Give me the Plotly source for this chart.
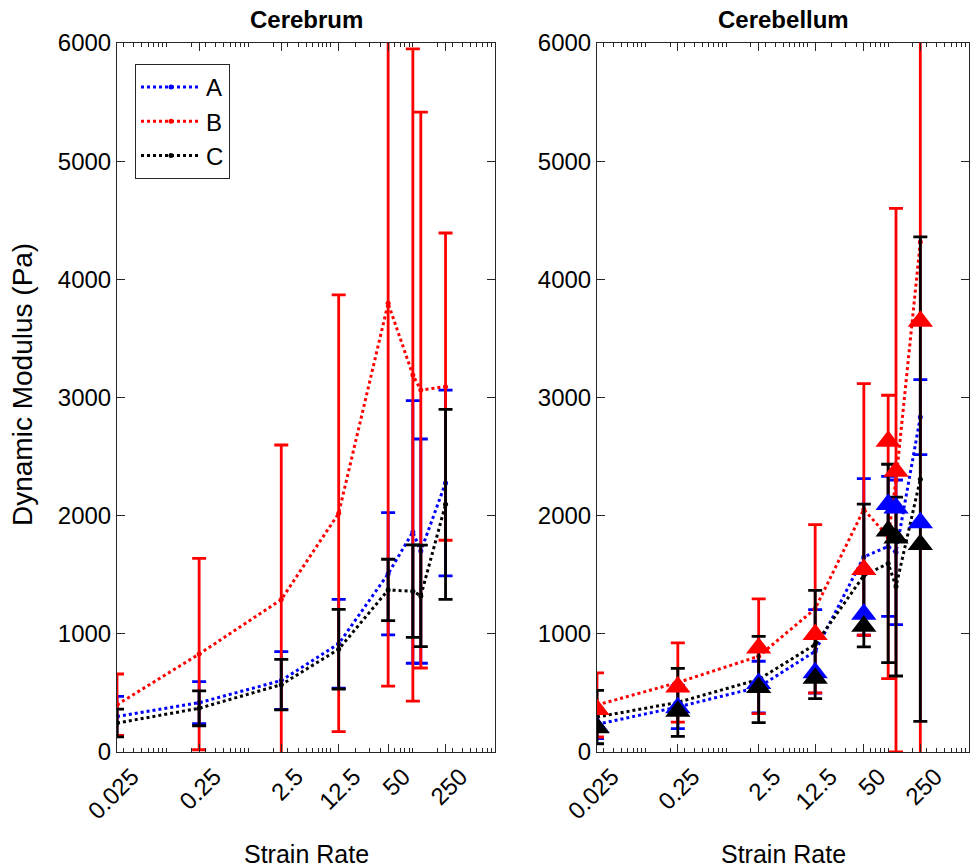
import plotly.graph_objects as go

# ---------------- data ----------------
strain_rate = [0.025, 0.25, 2.5, 12.5, 50, 100, 125, 250]
tick_vals = [0.025, 0.25, 2.5, 12.5, 50, 250]
tick_text = ["0.025", "0.25", "2.5", "12.5", "50", "250"]
series_names = ["A", "B", "C"]
series_colors = ["#0000FF", "#FF0000", "#000000"]

# Cerebrum (mean +/- sd)
cerebrum_A = [300, 417, 605, 916, 1508, 1862, 1700, 2277]
cerebrum_A_err = [170, 178, 244, 376, 517, 1111, 949, 786]
cerebrum_B = [400, 829, 1290, 2020, 3797, 3190, 3063, 3092]
cerebrum_B_err = [260, 810, 1308, 1848, 3239, 2760, 2352, 1300]
cerebrum_C = [245, 370, 570, 870, 1371, 1361, 1321, 2096]
cerebrum_C_err = [117, 148, 214, 337, 260, 391, 430, 804]

# Cerebellum (mean +/- sd)
cerebellum_A = [234, 381, 549, 852, 1651, 1740, 1690, 2834]
cerebellum_A_err = [121, 183, 219, 353, 663, 592, 612, 317]
cerebellum_B = [398, 588, 810, 1212, 2053, 1820, 2300, 4316]
cerebellum_B_err = [271, 335, 485, 712, 1065, 1199, 2300, 4400]
cerebellum_C = [296, 420, 614, 910, 1493, 1596, 1400, 2309]
cerebellum_C_err = [226, 287, 365, 458, 604, 839, 757, 2050]

# Cerebellum triangles
cerebellum_A_tri = [210, 375, 580, 670, 1165, 2095, 2065, 1940]
cerebellum_B_tri = [360, 550, 880, 995, 1545, 2630, 2375, 3645]
cerebellum_C_tri = [205, 345, 545, 625, 1065, 1870, 1810, 1755]

cerebrum = [(cerebrum_A, cerebrum_A_err), (cerebrum_B, cerebrum_B_err), (cerebrum_C, cerebrum_C_err)]
cerebellum = [(cerebellum_A, cerebellum_A_err), (cerebellum_B, cerebellum_B_err), (cerebellum_C, cerebellum_C_err)]
cerebellum_tri = [cerebellum_A_tri, cerebellum_B_tri, cerebellum_C_tri]

FONT = "Liberation Sans, Arial, sans-serif"
AXC = "#262626"

fig = go.Figure()

def add_err_series(xa, ya, data, showlegend):
    for name, color, (y, e) in zip(series_names, series_colors, data):
        fig.add_trace(go.Scatter(
            x=strain_rate, y=y, name=name, xaxis=xa, yaxis=ya,
            mode="lines+markers",
            line=dict(color=color, width=3, dash="dot"),
            marker=dict(color=color, size=5),
            error_y=dict(type="data", array=e, visible=True, color=color,
                         thickness=2.8, width=7),
            showlegend=showlegend,
        ))

add_err_series("x", "y", cerebrum, True)
add_err_series("x2", "y2", cerebellum, False)
for name, color, y in zip(series_names, series_colors, cerebellum_tri):
    fig.add_trace(go.Scatter(
        x=strain_rate, y=y, name=name, xaxis="x2", yaxis="y2",
        mode="markers",
        marker=dict(symbol="triangle-up", size=22, color=color, line=dict(width=0)),
        showlegend=False,
    ))

# minor ticks (log axis, MATLAB style)
minor_vals = []
for p in range(-2, 3):
    for m in range(1, 10):
        v = m * 10 ** p
        if 0.025 < v <= 1000:
            minor_vals.append(v)

def xaxis_cfg(domain, anchor):
    return dict(
        type="log", domain=domain, anchor=anchor, automargin=False,
        range=[-1.60206, 3.0],
        tickmode="array", tickvals=tick_vals, ticktext=tick_text,
        tickangle=-45, ticks="inside", ticklen=8, tickwidth=1, tickcolor=AXC,
        ticklabelshift=15, ticklabelstandoff=0,
        showline=True, linecolor=AXC, linewidth=1, mirror="ticks",
        showgrid=False, zeroline=False,
        tickfont=dict(family=FONT, size=24, color="black"),
        minor=dict(tickmode="array", tickvals=minor_vals, ticks="inside",
                   ticklen=4, tickcolor=AXC, tickwidth=1, showgrid=False),
    )

def yaxis_cfg(domain, anchor):
    return dict(
        domain=domain, anchor=anchor, range=[0, 6000], automargin=False,
        tickmode="array", tickvals=[0, 1000, 2000, 3000, 4000, 5000, 6000],
        ticks="inside", ticklen=8, tickwidth=1, tickcolor=AXC,
        showline=True, linecolor=AXC, linewidth=1, mirror="ticks",
        showgrid=False, zeroline=False,
        tickfont=dict(family=FONT, size=24, color="black"),
    )

W, H = 971, 868
ydom = [1 - 752 / H, 1 - 43 / H]
x1dom = [117 / W, 495 / W]
x2dom = [597 / W, 969 / W]

def ann(text, x, y, size, angle=0):
    return dict(text=text, x=x, y=y, xref="paper", yref="paper",
                xanchor="center", yanchor="middle", showarrow=False,
                textangle=angle, font=dict(family=FONT, size=size, color="black"))

fig.update_layout(
    width=W, height=H, autosize=False,
    margin=dict(l=0, r=0, t=0, b=0, autoexpand=False),
    paper_bgcolor="white", plot_bgcolor="white",
    font=dict(family=FONT, color="black"),
    xaxis=xaxis_cfg(x1dom, "y"),
    yaxis=yaxis_cfg(ydom, "x"),
    xaxis2=xaxis_cfg(x2dom, "y2"),
    yaxis2=yaxis_cfg(ydom, "x2"),
    legend=dict(
        x=135 / W, y=1 - 64 / H, xanchor="left", yanchor="top",
        bgcolor="white", bordercolor="#262626", borderwidth=1,
        font=dict(family=FONT, size=24, color="black"),
        itemwidth=60, tracegroupgap=0,
    ),
    annotations=[
        ann("<b>Cerebrum</b>", (x1dom[0] + x1dom[1]) / 2, 1 - 19 / H, 24),
        ann("<b>Cerebellum</b>", (x2dom[0] + x2dom[1]) / 2, 1 - 19 / H, 24),
        ann("Strain Rate", (x1dom[0] + x1dom[1]) / 2, 1 - 854 / H, 25),
        ann("Strain Rate", (x2dom[0] + x2dom[1]) / 2, 1 - 854 / H, 25),
        ann("Dynamic Modulus (Pa)", 22 / W, 1 - 385 / H, 28, -90),
    ],
)

fig.write_html("out.html")
